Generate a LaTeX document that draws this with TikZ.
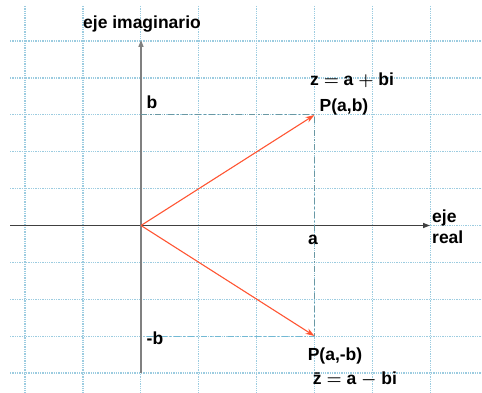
\documentclass[tikz,border=0pt]{standalone}
\usepackage{fontspec}
\setmainfont{Liberation Sans}
\usetikzlibrary{positioning, arrows.meta}

\definecolor{gridblue}{HTML}{9CCCE0}
\definecolor{vecred}{HTML}{FF5533}
\definecolor{projgray}{HTML}{6A98A3}
\definecolor{projblue}{HTML}{72B9D4}

\begin{document}
\begin{tikzpicture}[
  x=1pt, y=-1pt,
  font=\fontsize{17.5}{20}\selectfont\bfseries\boldmath,
  >={Triangle[length=7pt, width=5pt]},
  gridline/.style={gridblue, densely dotted, line width=1.3pt},
  axis/.style={->, line width=1.3pt},
  vec/.style={->, vecred, line width=1.1pt, >={Stealth[length=9pt, width=6pt]}},
  proj/.style={dash pattern=on 6pt off 3pt on 1.5pt off 3pt, line width=1pt},
  lbl/.style={inner sep=0pt},
]
\useasboundingbox (0,0) rectangle (482,393);

% ---- grid ----
\foreach \k in {0,...,7}
  \draw[gridline] (25+57.9*\k, 6) -- (25+57.9*\k, 393);
\foreach \k in {0,...,9}
  \draw[gridline] (10, 41+36.9*\k) -- (482, 41+36.9*\k);

% ---- points ----
\coordinate (O) at (141,225.5);
\coordinate (P) at (314.5,115);
\coordinate (Q) at (314.5,336);
\coordinate (bb) at (141,115);
\coordinate (mb) at (147,336);
\coordinate (xl) at (10,225.5);
\coordinate (xr) at (430,225.5);
\coordinate (yb) at (141,373);
\coordinate (yt) at (141,40);

% ---- axes ----
\draw[axis, black!75] (xl) -- (xr);
\draw[axis, black!50] (yb) -- (yt);

% ---- projections ----
\draw[proj, projgray] (bb) -- (P) -- (Q);
\draw[proj, projblue] (mb) -- (Q);

% ---- vectors ----
\draw[vec] (O) -- (P);
\draw[vec] (O) -- (Q);

% ---- labels ----
\node[lbl] (imag) at (142,24) {eje imaginario};
\node[lbl] (lb) at (152,102) {b};
\node[lbl] (lz) at (352,80) {z $=$ a $+$ bi};
\node[lbl] (lP) at (344,107) {P(a,b)};
\node[lbl] (la) at (313,240) {a};
\node[lbl, anchor=west, align=left] (real) at (432,227) {eje\\[1pt]real};
\node[lbl] (lmb) at (155,338) {-b};
\node[lbl] (lQ) at (335,356) {P(a,-b)};
\node[lbl] (lzb) at (355,379) {\={z} $=$ a $-$ bi};

\end{tikzpicture}
\end{document}
